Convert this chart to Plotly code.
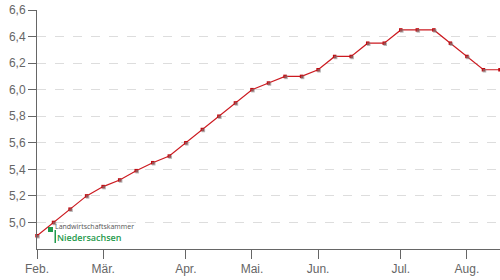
import plotly.graph_objects as go

weeks = list(range(29))
values = [4.90, 5.00, 5.10, 5.20, 5.27, 5.32, 5.39, 5.45, 5.50, 5.60,
          5.70, 5.80, 5.90, 6.00, 6.05, 6.10, 6.10, 6.15, 6.25, 6.25,
          6.35, 6.35, 6.45, 6.45, 6.45, 6.35, 6.25, 6.15, 6.15]
month_ticks = [0, 4, 9, 13, 17, 22, 26]
month_labels = ["Feb.", "Mär.", "Apr.", "Mai.", "Jun.", "Jul.", "Aug."]
y_ticks = [5.0, 5.2, 5.4, 5.6, 5.8, 6.0, 6.2, 6.4, 6.6]

W, H = 500, 280
ml, mr, mt, mb = 37, 0, 10, 31
xr = [0, 28]
yr = [4.8, 6.6]
px_x = (xr[1] - xr[0]) / (W - ml - mr)
px_y = (yr[1] - yr[0]) / (H - mt - mb)

fig = go.Figure()
# shadow of markers
fig.add_trace(go.Scatter(x=weeks, y=values, mode="markers", xaxis="x2", yaxis="y2",
                         marker=dict(symbol="square", size=3.5, color="rgba(130,130,130,0.6)"),
                         cliponaxis=False, hoverinfo="skip", showlegend=False))
fig.add_trace(go.Scatter(x=weeks, y=values, mode="lines+markers",
                         line=dict(color="#cc1a20", width=1.2),
                         marker=dict(symbol="square", size=3.5, color="#c00a10"),
                         cliponaxis=False, showlegend=False))

axis_font = dict(family="Liberation Sans, Arial, sans-serif", size=12, color="#666")
fig.update_layout(
    width=W, height=H, margin=dict(l=ml, r=mr, t=mt, b=mb),
    paper_bgcolor="white", plot_bgcolor="white",
    separators=",.",
    xaxis=dict(range=xr, tickvals=month_ticks, ticktext=month_labels,
               showgrid=False, zeroline=False, showline=True, linecolor="#666", linewidth=1,
               ticks="outside", ticklen=9, tickcolor="#666", tickfont=axis_font),
    yaxis=dict(range=yr, tickvals=y_ticks, tickformat=".1f",
               showgrid=True, gridcolor="#ddd", griddash="dash", gridwidth=1,
               zeroline=False, showline=True, linecolor="#666", linewidth=1,
               ticks="outside", ticklen=8, tickcolor="#666", tickfont=axis_font),
    xaxis2=dict(range=[xr[0] - px_x, xr[1] - px_x], overlaying="x", visible=False),
    yaxis2=dict(range=[yr[0] + px_y, yr[1] + px_y], overlaying="y", visible=False),
    annotations=[
        dict(text="Landwirtschaftskammer", xref="paper", yref="paper",
             x=(54 - ml) / (W - ml), y=(H - mb - 226.5) / (H - mt - mb), xanchor="left", yanchor="middle",
             showarrow=False, borderpad=0,
             font=dict(family="Open Sans, sans-serif", size=7, color="#555")),
        dict(text="Niedersachsen", xref="paper", yref="paper",
             x=(56 - ml) / (W - ml), y=(H - mb - 237.5) / (H - mt - mb), xanchor="left", yanchor="middle",
             showarrow=False, borderpad=0,
             font=dict(family="Open Sans, sans-serif", size=9, weight=600, color="#1f9a4c")),
    ],
    shapes=[
        dict(type="rect", xref="paper", yref="paper",
             x0=(54.5 - ml) / (W - ml), x1=(56 - ml) / (W - ml),
             y0=(H - mb - 243) / (H - mt - mb), y1=(H - mb - 230) / (H - mt - mb),
             fillcolor="#1f9a4c", line=dict(width=0)),
        dict(type="rect", xref="paper", yref="paper",
             x0=(48 - ml) / (W - ml), x1=(53 - ml) / (W - ml),
             y0=(H - mb - 232) / (H - mt - mb), y1=(H - mb - 227) / (H - mt - mb),
             fillcolor="#1f9a4c", line=dict(width=0)),
    ],
)
fig.write_html("out.html")
